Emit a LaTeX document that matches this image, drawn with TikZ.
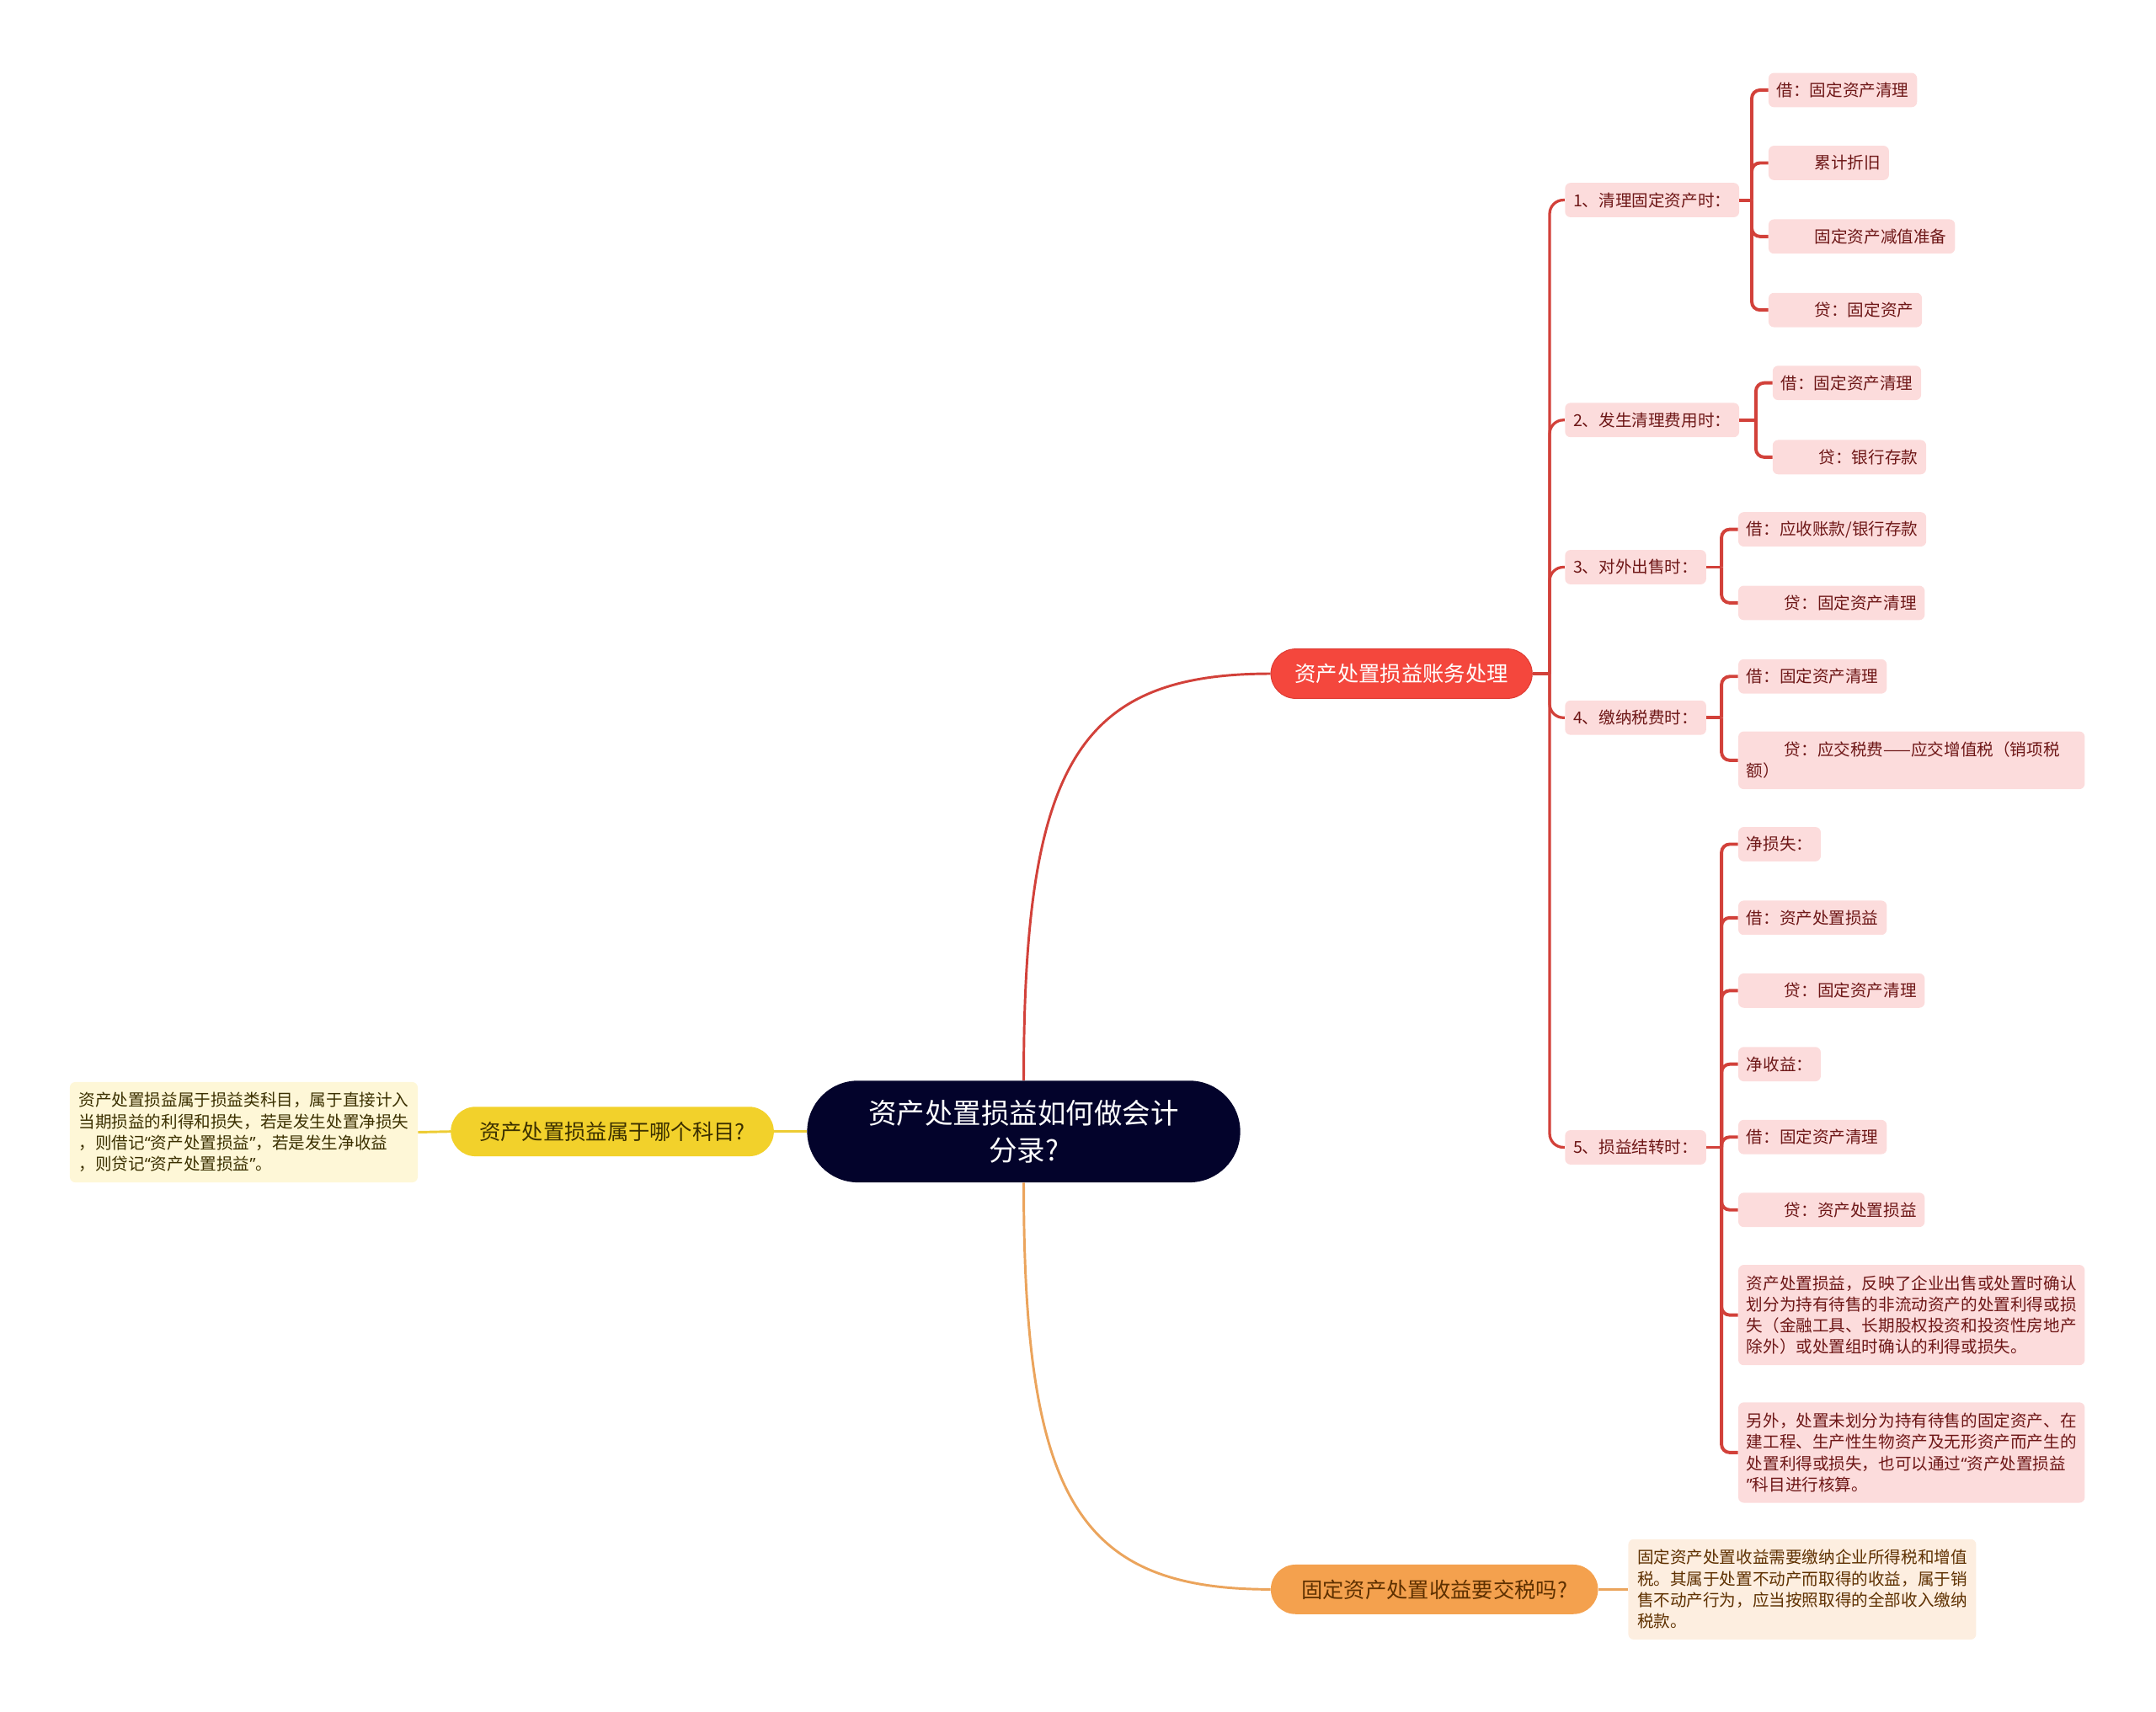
\documentclass[tikz,border=0pt]{standalone}
\usepackage{fontspec}
\setmainfont{Noto Sans CJK SC}
\newfontfamily\quotefont{Noto Sans}
\definecolor{navy}{HTML}{03032B}
\definecolor{redmain}{HTML}{F4473D}
\definecolor{rededge}{HTML}{DE3B33}
\definecolor{redline}{HTML}{D2413A}
\definecolor{blush}{HTML}{FCDCDC}
\definecolor{maroon}{HTML}{6E1717}
\definecolor{yellowmain}{HTML}{F2D12B}
\definecolor{yellowline}{HTML}{EDCC34}
\definecolor{yellownote}{HTML}{FEF7D7}
\definecolor{yellowtext}{HTML}{3B3000}
\definecolor{orangemain}{HTML}{F4A14E}
\definecolor{orangeline}{HTML}{EBA45C}
\definecolor{orangenote}{HTML}{FDEEE0}
\definecolor{orangetext}{HTML}{5E3000}
\tikzset{
  rootcard/.style={rectangle,rounded corners=37pt,fill=navy,text=white,align=center,minimum width=315pt,minimum height=74pt,font=\fontsize{20.5}{27}\selectfont},
  topic/.style={rectangle,rounded corners=18pt,minimum height=36pt,inner xsep=0pt,align=center,font=\fontsize{15.5}{18}\selectfont},
  entry/.style={rectangle,rounded corners=4pt,fill=blush,text=maroon,minimum height=25pt,inner xsep=6pt,inner ysep=2pt,anchor=west,align=left,font=\fontsize{12}{15.5}\selectfont},
  longentry/.style={entry,text width=240pt},
  note/.style={rectangle,rounded corners=4pt,text width=240pt,inner xsep=6.5pt,inner ysep=3pt,align=left,minimum height=73pt,font=\fontsize{12}{15.5}\selectfont},
  mainlink/.style={line width=1.8pt},
  redlink/.style={draw=redline,line width=2pt},
  yellowlink/.style={draw=yellowline,line width=1.8pt},
  orangelink/.style={draw=orangeline,line width=1.8pt}
}
\begin{document}
\begin{tikzpicture}[x=1pt,y=-1pt]
  \useasboundingbox (0,0) rectangle (1568,1245);
  \node[rootcard] (root) at (744.5,823) {资产处置损益如何做会计\\分录?};
  \node[topic,fill=redmain,draw=rededge,line width=0.6pt,text=white,minimum width=190pt,anchor=west] (acct) at (924,490) {资产处置损益账务处理};
  \node[topic,fill=yellowmain,text=yellowtext,minimum width=235pt,anchor=east] (ask) at (563,823) {资产处置损益属于哪个科目?};
  \node[topic,fill=orangemain,text=orangetext,minimum width=238pt,anchor=west] (tax) at (924,1156) {固定资产处置收益要交税吗?};
  \node[note,fill=yellownote,text=yellowtext,anchor=east] (asknote) at (304,823.5) {资产处置损益属于损益类科目，属于直接计入\\当期损益的利得和损失，若是发生处置净损失\\，则借记{\quotefont“}资产处置损益{\quotefont”}，若是发生净收益\\，则贷记{\quotefont“}资产处置损益{\quotefont”}。};
  \node[note,fill=orangenote,text=orangetext,anchor=west] (taxnote) at (1184,1156) {固定资产处置收益需要缴纳企业所得税和增值\\税。其属于处置不动产而取得的收益，属于销\\售不动产行为，应当按照取得的全部收入缴纳\\税款。};

  \node[entry] (s1) at (1138,145.5) {1、清理固定资产时：};
  \node[entry] (s2) at (1138,305.5) {2、发生清理费用时：};
  \node[entry] (s3) at (1138,412.5) {3、对外出售时：};
  \node[entry] (s4) at (1138,522) {4、缴纳税费时：};
  \node[entry] (s5) at (1138,834.5) {5、损益结转时：};

  \node[entry] (c11) at (1286,65.5) {借：固定资产清理};
  \node[entry] (c12) at (1286,118.5) {\hspace*{2.3em}累计折旧};
  \node[entry] (c13) at (1286,172) {\hspace*{2.3em}固定资产减值准备};
  \node[entry] (c14) at (1286,225.5) {\hspace*{2.3em}贷：固定资产};
  \node[entry] (c21) at (1289,278.5) {借：固定资产清理};
  \node[entry] (c22) at (1289,332.5) {\hspace*{2.3em}贷：银行存款};
  \node[entry] (c31) at (1264,385) {借：应收账款/银行存款};
  \node[entry] (c32) at (1264,438.5) {\hspace*{2.3em}贷：固定资产清理};
  \node[entry] (c41) at (1264,492) {借：固定资产清理};
  \node[longentry,minimum height=42pt] (c42) at (1264,553) {\hspace*{2.3em}贷：应交税费——应交增值税（销项税\\额）};
  \node[entry] (c51) at (1264,614) {净损失：};
  \node[entry] (c52) at (1264,667.5) {借：资产处置损益};
  \node[entry] (c53) at (1264,720.5) {\hspace*{2.3em}贷：固定资产清理};
  \node[entry] (c54) at (1264,774) {净收益：};
  \node[entry] (c55) at (1264,827) {借：固定资产清理};
  \node[entry] (c56) at (1264,880) {\hspace*{2.3em}贷：资产处置损益};
  \node[longentry,minimum height=73pt] (c57) at (1264,956.5) {资产处置损益，反映了企业出售或处置时确认\\划分为持有待售的非流动资产的处置利得或损\\失（金融工具、长期股权投资和投资性房地产\\除外）或处置组时确认的利得或损失。};
  \node[longentry,minimum height=73pt] (c58) at (1264,1056.5) {另外，处置未划分为持有待售的固定资产、在\\建工程、生产性生物资产及无形资产而产生的\\处置利得或损失，也可以通过{\quotefont“}资产处置损益\\{\quotefont”}科目进行核算。};

  \coordinate (f0) at (1127,490);
  \coordinate (f1) at (1274,145.5);
  \coordinate (f2) at (1277,305.5);
  \coordinate (f3) at (1252,412.5);
  \coordinate (f4) at (1252,522);
  \coordinate (f5) at (1252,834.5);

  \draw[redlink,mainlink] (root.north) .. controls +(0,-230) and +(-140,0) .. (acct.west);
  \draw[orangelink] (root.south) .. controls +(0,230) and +(-140,0) .. (tax.west);
  \draw[yellowlink] (root.west) -- (ask.east);
  \draw[yellowlink] (ask.west) -- (asknote.east);
  \draw[orangelink] (tax.east) -- (taxnote.west);

  \draw[redlink] (acct.east) -- (f0);
  \draw[redlink,rounded corners=10pt] (f0) |- (s1.west);
  \draw[redlink,rounded corners=10pt] (f0) |- (s2.west);
  \draw[redlink,rounded corners=10pt] (f0) |- (s3.west);
  \draw[redlink,rounded corners=10pt] (f0) |- (s4.west);
  \draw[redlink,rounded corners=10pt] (f0) |- (s5.west);

  \draw[redlink,line width=2.4pt] (s1.east) -- (f1);
  \draw[redlink,line width=2.4pt,rounded corners=6pt] (f1) |- (c11.west);
  \draw[redlink,line width=2.4pt,rounded corners=6pt] (f1) |- (c12.west);
  \draw[redlink,line width=2.4pt,rounded corners=6pt] (f1) |- (c13.west);
  \draw[redlink,line width=2.4pt,rounded corners=6pt] (f1) |- (c14.west);
  \draw[redlink,line width=2.4pt] (s2.east) -- (f2);
  \draw[redlink,line width=2.4pt,rounded corners=6pt] (f2) |- (c21.west);
  \draw[redlink,line width=2.4pt,rounded corners=6pt] (f2) |- (c22.west);
  \draw[redlink,line width=2.4pt] (s3.east) -- (f3);
  \draw[redlink,line width=2.4pt,rounded corners=6pt] (f3) |- (c31.west);
  \draw[redlink,line width=2.4pt,rounded corners=6pt] (f3) |- (c32.west);
  \draw[redlink,line width=2.4pt] (s4.east) -- (f4);
  \draw[redlink,line width=2.4pt,rounded corners=6pt] (f4) |- (c41.west);
  \draw[redlink,line width=2.4pt,rounded corners=6pt] (f4) |- (c42.west);
  \draw[redlink,line width=2.4pt] (s5.east) -- (f5);
  \draw[redlink,line width=2.4pt,rounded corners=6pt] (f5) |- (c51.west);
  \draw[redlink,line width=2.4pt,rounded corners=6pt] (f5) |- (c52.west);
  \draw[redlink,line width=2.4pt,rounded corners=6pt] (f5) |- (c53.west);
  \draw[redlink,line width=2.4pt,rounded corners=6pt] (f5) |- (c54.west);
  \draw[redlink,line width=2.4pt,rounded corners=6pt] (f5) |- (c55.west);
  \draw[redlink,line width=2.4pt,rounded corners=6pt] (f5) |- (c56.west);
  \draw[redlink,line width=2.4pt,rounded corners=6pt] (f5) |- (c57.west);
  \draw[redlink,line width=2.4pt,rounded corners=6pt] (f5) |- (c58.west);
\end{tikzpicture}
\end{document}
